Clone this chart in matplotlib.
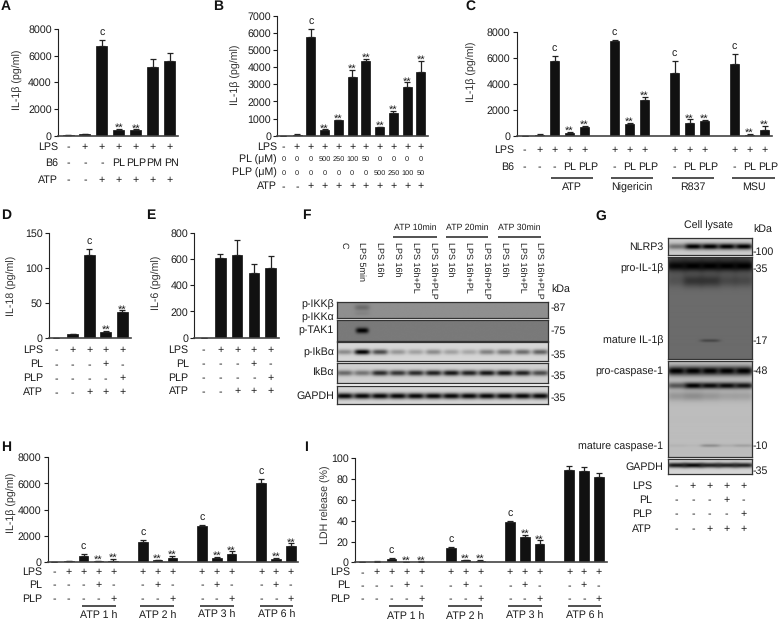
from matplotlib import pyplot as plt
import numpy as np

plt.rcParams['font.family'] = ['Liberation Sans', 'DejaVu Sans']
plt.rcParams['font.size'] = 7.7
plt.rcParams['text.hinting'] = 'no_hinting'
plt.rcParams['text.color'] = '#1c1c1c'
plt.rcParams['axes.edgecolor'] = '#222222'
plt.rcParams['xtick.color'] = '#222222'
plt.rcParams['ytick.color'] = '#1c1c1c'

W, H = 778, 620
FS = 7.7

# panel A
a_vals = [20, 100, 6750, 450, 400, 5150, 5600]
a_errs = [0, 50, 430, 80, 80, 600, 620]
a_sig = ['', '', 'c', '**', '**', '', '']
a_lps = list('-++++++')
a_b6 = ['-', '-', '-', 'PL', 'PLP', 'PM', 'PN']
a_atp = list('--+++++')

# panel B
b_vals = [10, 70, 5730, 330, 900, 3400, 4350, 480, 1320, 2850, 3720]
b_errs = [0, 20, 480, 40, 40, 430, 150, 30, 150, 260, 650]
b_sig = ['', '', 'c', '**', '**', '**', '**', '**', '**', '**', '**']
b_lps = list('-++++++++++')
b_pl = ['0', '0', '0', '500', '250', '100', '50', '0', '0', '0', '0']
b_plp = ['0', '0', '0', '0', '0', '0', '0', '500', '250', '100', '50']
b_atp = list('--+++++++++')

# panel C
c_vals = [0, 80, 5750, 200, 650, 7250, 900, 2750, 4800, 1000, 1150, 5500, 80, 430]
c_errs = [0, 40, 400, 100, 130, 100, 100, 220, 950, 250, 60, 750, 60, 350]
c_sig = ['', '', 'c', '**', '**', 'c', '**', '**', 'c', '**', '**', 'c', '**', '**']
c_lps = list('-+++++++++++++')
c_b6 = ['-', '-', '-', 'PL', 'PLP', '-', 'PL', 'PLP', '-', 'PL', 'PLP', '-', 'PL', 'PLP']
c_groups = ['ATP', 'Nigericin', 'R837', 'MSU']

# panel D
d_vals = [1, 6, 118, 9.5, 38]
d_errs = [0, 0.8, 9.5, 1.5, 2]
d_sig = ['', '', 'c', '**', '**']

# panel E
e_vals = [0, 610, 630, 490, 530]
e_errs = [0, 25, 115, 70, 95]
e_sig = ['', '', '', '', '']

# the LPS / PL / PLP / ATP rows shared by D, E and G
five_lps = list('-++++')
five_pl = list('---+-')
five_plp = list('----+')
five_atp = list('--+++')

# panel H
h_vals = [0, 50, 450, 60, 70, 1550, 130, 300, 2750, 320, 600, 6000, 250, 1250]
h_errs = [0, 20, 170, 50, 170, 130, 40, 160, 100, 100, 230, 320, 50, 180]

# panel I
i_vals = [0.3, 0.6, 3.2, 0.4, 0.6, 14, 2, 1.5, 38.5, 24.5, 18, 89, 87.5, 82.5]
i_errs = [0, 0.2, 0.5, 0.3, 0.3, 0.5, 0.5, 0.8, 1, 2, 3, 3.5, 4, 3.5]
h_sig = ['', '', 'c', '**', '**', 'c', '**', '**', 'c', '**', '**', 'c', '**', '**']
i_sig = ['', '', 'c', '**', '**', 'c', '**', '**', 'c', '**', '**', '', '', '']
time_lps = list('-+++++++++++++')
time_pl = list('---+--+--+--+-')
time_plp = list('----+--+--+--+')
time_groups = ['ATP 1 h', 'ATP 2 h', 'ATP 3 h', 'ATP 6 h']

# blots: band darkness per lane
f_lanes = ['C', 'LPS 5min', 'LPS 16h', 'LPS 16h', 'LPS 16h+PL', 'LPS 16h+PLP',
           'LPS 16h', 'LPS 16h+PL', 'LPS 16h+PLP', 'LPS 16h', 'LPS 16h+PL', 'LPS 16h+PLP']
f_ikk = [0, 0.25, 0, 0, 0, 0, 0, 0, 0, 0, 0, 0]
f_tak = [0, 1, 0, 0, 0, 0, 0, 0, 0, 0, 0, 0]
f_pikb = [0.35, 1, 0.65, 0.3, 0.25, 0.35, 0.25, 0.22, 0.4, 0.45, 0.5, 0.55]
f_ikb = [0.5, 0.45, 0.8, 0.75, 0.8, 0.85, 0.9, 0.85, 0.9, 0.9, 0.85, 0.65]
f_gapdh = [0.97] * 12
g_nlrp3 = [0.45, 1, 1, 1, 1]
g_pro_il = [0.9, 1, 1, 1, 1]
g_il_top = [0.45, 0.45, 0.45, 0.45, 0.45]
g_il_smear = [0.2, 0.5, 0.5, 0.3, 0.3]
g_mat_il = [0, 0, 0.35, 0, 0]
g_pro_casp = [1, 1, 1, 1, 1]
g_casp2 = [0.55, 1, 0.95, 0.95, 0.9]
g_casp_smear = [0.2, 0.25, 0.2, 0.15, 0.15]
g_mat_casp = [0.05, 0.03, 0.25, 0.08, 0.15]
g_gapdh = [0.9, 0.97, 0.85, 0.85, 0.85]

fig = plt.figure(figsize=(W / 100, H / 100), dpi=100)
px = fig.add_axes([0, 0, 1, 1], zorder=10)
px.set_xlim(0, W)
px.set_ylim(H, 0)
px.axis('off')
px.patch.set_alpha(0)


def lanes(first, step, gap, groups):
    out, x = [], first
    for g in groups:
        for _ in range(g):
            out.append(x)
            x += step
        x += gap
    return np.array(out)


def bars(xs, vals, errs, sig, x0, x1, top, bot, ymax, ticks, width, ylabel, ylab_x, ylab_y):
    ax = fig.add_axes([x0 / W, 1 - bot / H, (x1 - x0) / W, (bot - top) / H])
    ax.set_xlim(x0, x1)
    ax.set_ylim(0, ymax)
    ax.bar(xs, vals, width, color='#111111', edgecolor='#111111', linewidth=0.5)
    ax.errorbar(xs, vals, yerr=[np.zeros(len(errs)), errs], fmt='none', ecolor='#222222',
                elinewidth=0.9, capsize=2.2, capthick=0.9)
    ax.spines[['top', 'right']].set_visible(False)
    ax.spines['left'].set_linewidth(0.8)
    ax.spines['bottom'].set_linewidth(1.2)
    ax.spines['bottom'].set_color('#444444')
    ax.set_xticks([])
    ax.set_yticks(ticks)
    ax.tick_params(axis='y', length=3, width=0.8, pad=1.5, labelsize=FS)
    for x, v, e, s in zip(xs, vals, errs, sig):
        if s == 'c':
            ax.annotate(s, (x, v + e), xytext=(0, 3), textcoords='offset points', ha='center',
                        va='baseline', fontsize=FS, annotation_clip=False)
        elif s:
            ax.annotate(s, (x, v + e), xytext=(0, -1.5), textcoords='offset points', ha='center',
                        va='baseline', fontsize=8, annotation_clip=False)
    px.text(ylab_x, ylab_y, ylabel, rotation=90, ha='center', va='center', fontsize=FS, color='#333333')
    return ax


def row(xs, labels, name, right, y, size=FS, shift=None):
    px.text(right, y, name, ha='right', va='center', fontsize=FS)
    shift = shift or {}
    for x, s in zip(xs, labels):
        px.text(x + shift.get(s, 0), y, s, ha='center', va='center', fontsize=size)


def under(spans, labels, y_line, y_text, size=FS):
    for (a, b), s in zip(spans, labels):
        px.plot([a, b], [y_line, y_line], color='#222222', lw=1.1, solid_capstyle='butt')
        px.text((a + b) / 2, y_text, s, ha='center', va='center', fontsize=size)


def blot(x0, x1, top, bot, xs, bg, bands, half=7.5):
    # bands: (y in px, thickness in px, darkness per lane)
    ny, nx = int((bot - top) * 3), int((x1 - x0) * 3)
    yy = np.linspace(top, bot, ny)[:, None]
    xx = np.linspace(x0, x1, nx)[None, :]
    keep = np.ones((ny, nx))
    for yc, thick, strengths in bands:
        for xc, s in zip(xs, strengths):
            g = np.exp(-((xx - xc) / half) ** 4) * np.exp(-((yy - yc) / thick) ** 2)
            keep *= 1 - s * g
    img = bg * keep
    ax = fig.add_axes([x0 / W, 1 - bot / H, (x1 - x0) / W, (bot - top) / H])
    ax.imshow(img, cmap='gray', vmin=0, vmax=1, aspect='auto', interpolation='bilinear')
    ax.set_xticks([])
    ax.set_yticks([])
    for s in ax.spines.values():
        s.set_linewidth(0.9)
        s.set_color('#333333')


# A
xs = lanes(68, 16.95, 0, [7])
bars(xs, a_vals, a_errs, a_sig, 58, 178, 29, 135.7, 8000, range(0, 8001, 2000), 11, 'IL-1β (pg/ml)', 18, 80)
row(xs, a_lps, 'LPS', 58, 146.7)
row(xs, a_b6, 'B6', 58, 163, shift={'PLP': 0.5, 'PM': 1.8, 'PN': 2})
row(xs, a_atp, 'ATP', 58, 180)

# B
xs = lanes(283.3, 13.77, 0, [11])
bars(xs, b_vals, b_errs, b_sig, 277.3, 428, 15.7, 135.7, 7000, range(0, 7001, 1000), 9, 'IL-1β (pg/ml)', 236, 75)
row(xs, b_lps, 'LPS', 277, 146.7)
row(xs, b_pl, 'PL (μM)', 277, 159.5, size=5.3)
row(xs, b_plp, 'PLP (μM)', 277, 173, size=5.3)
row(xs, b_atp, 'ATP', 277, 186.5)

# C
xs = lanes(524.5, 15, 15, [5, 3, 3, 3])
bars(xs, c_vals, c_errs, c_sig, 516.7, 771.7, 31.7, 135.7, 8000, range(0, 8001, 2000), 9.7, 'IL-1β (pg/ml)', 472, 72)
row(xs, c_lps, 'LPS', 514, 150)
row(xs, c_b6, 'B6', 514, 167, shift={'PLP': 3.3})
under([(551, 593.3), (611, 653), (671.7, 714), (732, 775)], c_groups, 178, 187.5)

# D
xs = lanes(56, 16.6, 0, [5])
bars(xs, d_vals, d_errs, d_sig, 48.7, 130.7, 233, 338.3, 150, [0, 50, 100, 150], 10.7, 'IL-18 (pg/ml)', 12, 286)
row(xs, five_lps, 'LPS', 43, 350)
row(xs, five_pl, 'PL', 43, 364.3)
row(xs, five_plp, 'PLP', 43, 378.3)
row(xs, five_atp, 'ATP', 43, 392.3)

# E
xs = lanes(203.5, 16.8, 0, [5])
bars(xs, e_vals, e_errs, e_sig, 194.3, 279.3, 232.7, 337.7, 800, range(0, 801, 200), 10.7, 'IL-6 (pg/ml)', 156.7, 283)
row(xs, five_lps, 'LPS', 188.7, 350)
row(xs, five_pl, 'PL', 188.7, 364)
row(xs, five_plp, 'PLP', 188.7, 378)
row(xs, five_atp, 'ATP', 188.7, 391.5)

# F
xs = lanes(344, 17.8, 0, [12])
bx0, bx1 = 336.7, 548.3
blot(bx0, bx1, 301.7, 318.3, xs, 0.56, [(308, 3, f_ikk), (314, 2, np.array(f_ikk) * 0.3)])
blot(bx0, bx1, 320.3, 340.7, xs, 0.48, [(330.5, 2.8, f_tak)], half=6.5)
blot(bx0, bx1, 342.3, 360.7, xs, 0.84, [(352, 2.6, f_pikb)], half=8)
blot(bx0, bx1, 362.7, 383.3, xs, 0.82, [(373.5, 2.8, f_ikb)], half=8.5)
blot(bx0, bx1, 385.7, 404.3, xs, 0.84, [(396.5, 3, f_gapdh)], half=9)
for x, s in zip(xs, f_lanes):
    px.text(x, 241.5, s, rotation=270, ha='center', va='top', fontsize=6.5)
under([(393.3, 436.7), (445.7, 488.3), (498, 541)], ['ATP 10min', 'ATP 20min', 'ATP 30min'], 237, 228, size=6.3)
px.text(551.7, 290, 'kDa', ha='left', va='center', fontsize=FS)
for y, s in zip([305, 317, 330, 352.7, 372.7, 396], ['p-IKKβ', 'p-IKKα', 'p-TAK1', 'p-IkBα', 'IkBα', 'GAPDH']):
    px.text(334, y, s, ha='right', va='center', fontsize=FS)
for y, s in zip([307.7, 330.7, 355.3, 375.7, 398], ['-87', '-75', '-35', '-35', '-35']):
    px.text(551, y, s, ha='left', va='center', fontsize=FS)

# G
xs = lanes(676, 16.9, 0, [5])
gx0, gx1 = 667.7, 751.7
blot(gx0, gx1, 238.3, 254.7, xs, 0.8, [(246.5, 3, g_nlrp3)], half=9)
blot(gx0, gx1, 257.3, 358.7, xs, 0.42, [(262, 12, g_il_top), (266, 4.5, g_pro_il), (281, 6, g_il_smear),
                                          (340.5, 1.5, g_mat_il)], half=10)
blot(gx0, gx1, 361.3, 456.7, xs, 0.74, [(371, 4.5, g_pro_casp), (385.7, 3.2, g_casp2),
                                          (396, 5, g_casp_smear), (445.5, 1.5, g_mat_casp)], half=9.5)
blot(gx0, gx1, 459.3, 474.3, xs, 0.84, [(465.5, 2.6, g_gapdh)], half=10.5)
px.text(708.3, 226, 'Cell lysate', ha='center', va='center', fontsize=FS)
px.text(753.3, 230, 'kDa', ha='left', va='center', fontsize=FS)
for y, s in zip([247.3, 269, 340.7, 371, 446, 466.7],
                ['NLRP3', 'pro-IL-1β', 'mature IL-1β', 'pro-caspase-1', 'mature caspase-1', 'GAPDH']):
    px.text(663.3, y, s, ha='right', va='center', fontsize=FS)
for y, s in zip([252.3, 269, 340.7, 371, 446, 471], ['-100', '-35', '-17', '-48', '-10', '-35']):
    px.text(752.3, y, s, ha='left', va='center', fontsize=FS)
row(xs, five_lps, 'LPS', 652.3, 485.7)
row(xs, five_pl, 'PL', 652.3, 499.7)
row(xs, five_plp, 'PLP', 652.3, 513.7)
row(xs, five_atp, 'ATP', 652.3, 528.7)

# H
xs = lanes(54, 14.8, 14.8, [5, 3, 3, 3])
bars(xs, h_vals, h_errs, h_sig, 47.7, 298, 457.3, 562, 8000, range(0, 8001, 2000), 9.7, 'IL-1β (pg/ml)', 12, 503)
row(xs, time_lps, 'LPS', 42, 572)
row(xs, time_pl, 'PL', 42, 585)
row(xs, time_plp, 'PLP', 42, 598.7)
under([(82.3, 115.7), (140.3, 174.3), (200, 234), (260, 293)], time_groups, 605.7, 615.3)

# I
xs = lanes(362, 14.8, 14.8, [5, 3, 3, 3])
bars(xs, i_vals, i_errs, i_sig, 355, 607, 458.3, 562.3, 100, range(0, 101, 20), 9.7, 'LDH release (%)', 326, 505)
row(xs, time_lps, 'LPS', 350, 572.3)
row(xs, time_pl, 'PL', 350, 585.3)
row(xs, time_plp, 'PLP', 350, 599)
under([(389, 423), (448, 482), (508, 541.7), (567.7, 601)], time_groups, 606.3, 615.7)

for x, y, s in [(1, 6, 'A'), (213, 6, 'B'), (465, 6, 'C'), (1, 215.7, 'D'), (146, 215.7, 'E'),
                (301.7, 215, 'F'), (595, 216, 'G'), (1, 447, 'H'), (304, 447, 'I')]:
    px.text(x, y, s, ha='left', va='center', fontsize=10, fontweight='bold', color='#111111')

fig.savefig('out.png', dpi=100)
